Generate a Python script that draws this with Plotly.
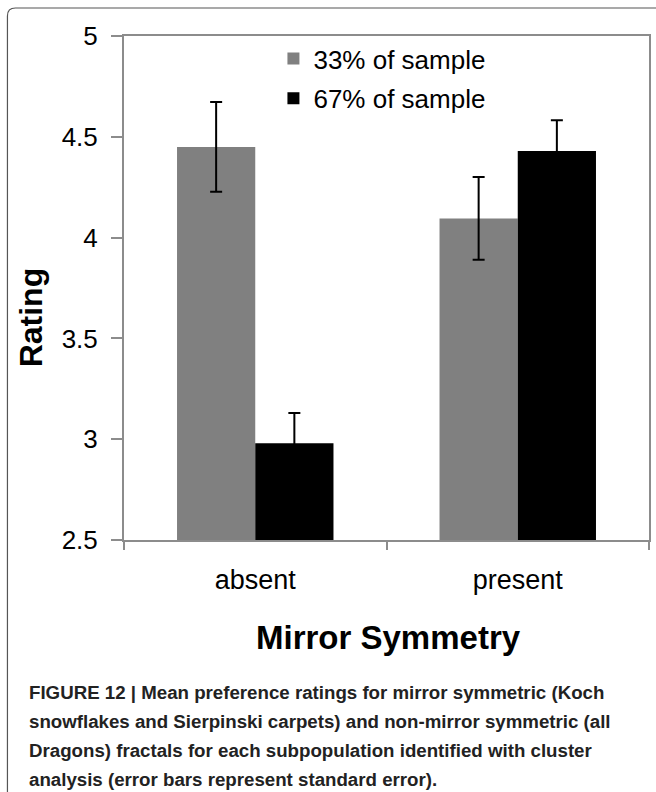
import plotly.graph_objects as go

categories = ["absent", "present"]
series_names = ["33% of sample", "67% of sample"]
series_colors = ["#808080", "#000000"]
values_33 = [4.45, 4.095]
errors_33 = [0.222, 0.205]
values_67 = [2.98, 4.43]
errors_67 = [0.15, 0.152]
y_tick_vals = [2.5, 3, 3.5, 4, 4.5, 5]
y_tick_text = ["2.5", "3", "3.5", "4", "4.5", "5"]
y_title = "Rating"
x_title = "Mirror Symmetry"
caption_lines = [
    "FIGURE 12 | Mean preference ratings for mirror symmetric (Koch",
    "snowflakes and Sierpinski carpets) and non-mirror symmetric (all",
    "Dragons) fractals for each subpopulation identified with cluster",
    "analysis (error bars represent standard error).",
]

W, H = 656, 792
L, R, T, B = 124, 5, 36, 252
PW, PH = W - L - R, H - T - B


def px(x):
    return (x - L) / PW


def py(y):
    return (H - B - y) / PH


FONT = "Liberation Sans, Arial, sans-serif"
AXC = "#8c8c8c"

fig = go.Figure()
for name, color, vals, errs in [
    (series_names[0], series_colors[0], values_33, errors_33),
    (series_names[1], series_colors[1], values_67, errors_67),
]:
    fig.add_trace(go.Bar(
        x=categories, y=vals, name=name,
        marker=dict(color=color, line=dict(width=0)),
        error_y=dict(type="data", array=errs, visible=True,
                     color="#000000", thickness=2, width=6),
        legendgroup=name,
    ))

fig.update_layout(
    width=W, height=H,
    margin=dict(l=L, r=R, t=T, b=B, pad=0),
    paper_bgcolor="white", plot_bgcolor="white",
    barmode="group", bargap=0.404, bargroupgap=0,
    font=dict(family=FONT, color="#000000"),
    showlegend=True,
    legend=dict(
        x=px(274), y=py(35), xanchor="left", yanchor="top",
        bgcolor="rgba(0,0,0,0)", borderwidth=0,
        font=dict(size=26, family=FONT, color="#000000"),
        tracegroupgap=3, itemwidth=30,
    ),
)

fig.update_xaxes(
    type="category", showline=True, linecolor=AXC, linewidth=2, mirror=True,
    ticks="outside", tickson="boundaries", ticklen=8, tickcolor=AXC, tickwidth=2,
    showgrid=False, zeroline=False,
    tickfont=dict(size=27, family=FONT, color="#000000"),
    ticklabelstandoff=15,
)
fig.update_yaxes(
    range=[2.5, 5], tickvals=y_tick_vals, ticktext=y_tick_text,
    showline=True, linecolor=AXC, linewidth=2, mirror=True,
    ticks="outside", ticklen=11, tickcolor=AXC, tickwidth=2,
    showgrid=False, zeroline=False,
    tickfont=dict(size=26, family=FONT, color="#000000"),
    ticklabelstandoff=8,
)

annotations = [
    dict(text=y_title, x=px(31), y=py(317), xref="paper", yref="paper",
         textangle=-90, showarrow=False, xanchor="center", yanchor="middle",
         font=dict(size=32, family=FONT, color="#000000", weight="bold")),
    dict(text=x_title, x=px(390), y=py(637), xref="paper", yref="paper",
         showarrow=False, xanchor="center", yanchor="middle",
         font=dict(size=33, family=FONT, color="#000000", weight="bold")),
]
cap_font = dict(size=18.7, family=FONT, color="#222222", weight="bold")
for i, line in enumerate(caption_lines):
    annotations.append(dict(
        text=line, x=px(27), y=py(692 + 29.3 * i), xref="paper", yref="paper",
        showarrow=False, xanchor="left", yanchor="middle", align="left",
        font=cap_font,
    ))
fig.update_layout(annotations=annotations)

# outer rounded frame of the figure panel
x0, y0, x1, y1, r = px(7), py(8), px(664), py(800), 8
rx, ry = r / PW, r / PH
path = (f"M {x0},{y1} L {x0},{y0 - ry} Q {x0},{y0} {x0 + rx},{y0} "
        f"L {x1},{y0}")
fig.add_shape(type="path", path=path, xref="paper", yref="paper",
              line=dict(color="#555555", width=1.2), layer="below")

fig.write_html(
    "out.html",
    config={"displayModeBar": False},
    post_script="document.body.style.margin='0px';"
                "document.body.style.overflow='hidden';"
                "document.documentElement.style.overflow='hidden';",
)
